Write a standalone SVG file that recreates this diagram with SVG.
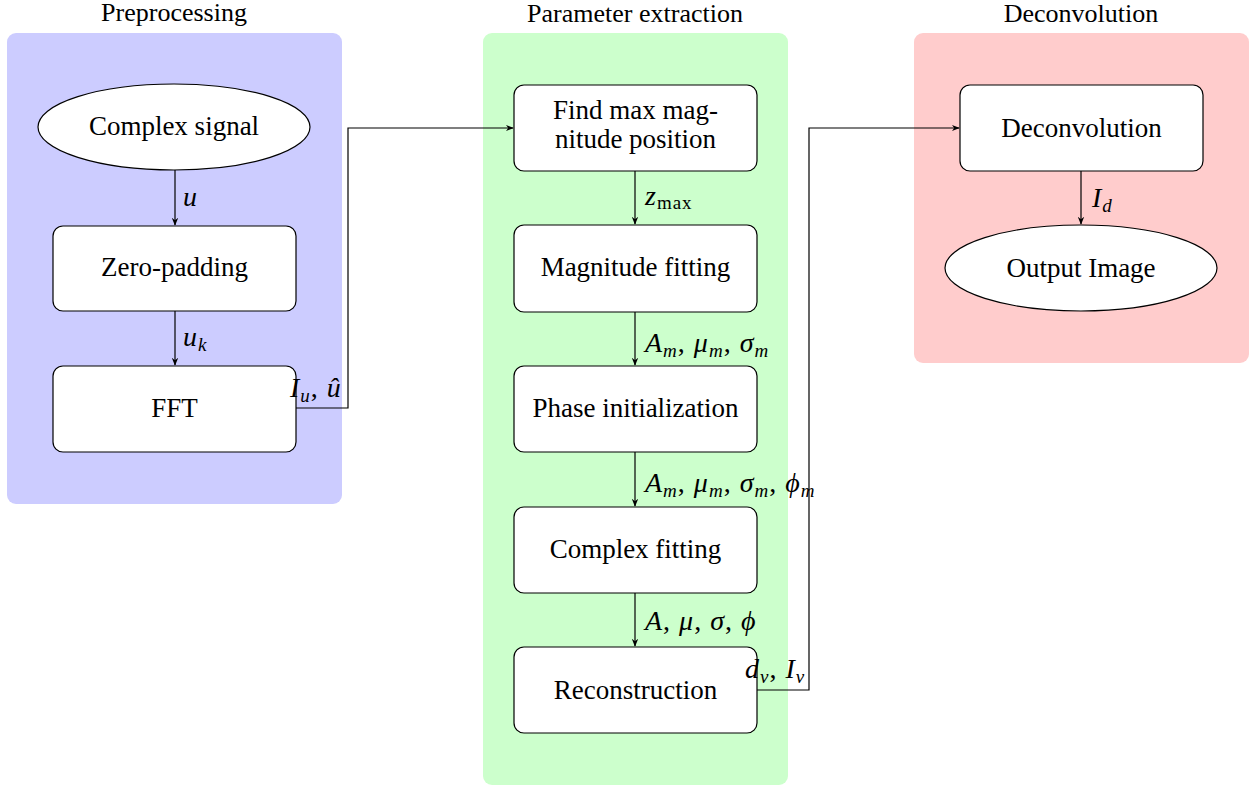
<svg xmlns="http://www.w3.org/2000/svg" width="1250" height="791" viewBox="0 0 1250 791">
<style>
text{font-family:"Liberation Serif","Times New Roman","DejaVu Serif",serif;fill:#000}
.title{font-size:26px;text-anchor:middle}
.lbl{font-size:27px;text-anchor:middle}
.math{font-size:28px;font-style:italic;letter-spacing:1px}
.sub{font-size:19px}
.up{font-style:normal}
.node{fill:#fff;stroke:#000;stroke-width:1.2}
.conn{fill:none;stroke:#000;stroke-width:1.2}
</style>
<defs>
<marker id="arr" viewBox="0 0 10 10" refX="9" refY="5" markerWidth="8" markerHeight="8" markerUnits="userSpaceOnUse" orient="auto">
<path d="M0,1 L10,5 L0,9 L3,5 Z" fill="#000"/>
</marker>
</defs>
<rect width="1250" height="791" fill="#fff"/>
<g id="panels">
<rect x="7" y="33" width="335" height="471" rx="9" fill="#ccccff"/>
<rect x="483" y="33" width="305" height="752" rx="9" fill="#ccffcc"/>
<rect x="914" y="33" width="335" height="330" rx="9" fill="#ffcccc"/>
<text class="title" x="174" y="21">Preprocessing</text>
<text class="title" x="635" y="22">Parameter extraction</text>
<text class="title" x="1081" y="22">Deconvolution</text>
</g>
<g id="connectors">
<line class="conn" x1="175" y1="170" x2="175" y2="225" marker-end="url(#arr)"/>
<line class="conn" x1="175" y1="311" x2="175" y2="365" marker-end="url(#arr)"/>
<polyline class="conn" points="296,408 348,408 348,128 513,128" marker-end="url(#arr)"/>
<line class="conn" x1="635" y1="171" x2="635" y2="224" marker-end="url(#arr)"/>
<line class="conn" x1="635" y1="312" x2="635" y2="365" marker-end="url(#arr)"/>
<line class="conn" x1="635" y1="452" x2="635" y2="506" marker-end="url(#arr)"/>
<line class="conn" x1="635" y1="593" x2="635" y2="646" marker-end="url(#arr)"/>
<polyline class="conn" points="757,690 809,690 809,128 959,128" marker-end="url(#arr)"/>
<line class="conn" x1="1081" y1="171" x2="1081" y2="224" marker-end="url(#arr)"/>
</g>
<g id="complex-signal">
<ellipse class="node" cx="174" cy="127" rx="136" ry="43"/>
<text class="lbl" x="174" y="135">Complex signal</text>
</g>
<g id="zero-padding">
<rect class="node" x="53" y="226" width="243" height="85" rx="10"/>
<text class="lbl" x="174.5" y="276">Zero-padding</text>
</g>
<g id="fft">
<rect class="node" x="53" y="366" width="243" height="86" rx="10"/>
<text class="lbl" x="174.5" y="417">FFT</text>
</g>
<g id="find-max">
<rect class="node" x="514" y="85" width="243" height="86" rx="10"/>
<text class="lbl" x="635.5" y="119">Find max mag-</text>
<text class="lbl" x="635.5" y="148">nitude position</text>
</g>
<g id="magnitude-fitting">
<rect class="node" x="514" y="225" width="243" height="87" rx="10"/>
<text class="lbl" x="635.5" y="276">Magnitude fitting</text>
</g>
<g id="phase-init">
<rect class="node" x="514" y="366" width="243" height="86" rx="10"/>
<text class="lbl" x="635.5" y="417">Phase initialization</text>
</g>
<g id="complex-fitting">
<rect class="node" x="514" y="507" width="243" height="86" rx="10"/>
<text class="lbl" x="635.5" y="558">Complex fitting</text>
</g>
<g id="reconstruction">
<rect class="node" x="514" y="647" width="243" height="86" rx="10"/>
<text class="lbl" x="635.5" y="699">Reconstruction</text>
</g>
<g id="deconvolution">
<rect class="node" x="960" y="85" width="243" height="86" rx="10"/>
<text class="lbl" x="1081.5" y="137">Deconvolution</text>
</g>
<g id="output-image">
<ellipse class="node" cx="1081" cy="268" rx="136" ry="43"/>
<text class="lbl" x="1081" y="277">Output Image</text>
</g>
<g id="connector-labels">
<text class="math" x="183" y="206">u</text>
<text class="math" x="183" y="346">u<tspan class="sub" dy="5">k</tspan></text>
<text class="math" x="290" y="397">I<tspan class="sub" dy="5">u</tspan><tspan class="up" dy="-5">, </tspan>û</text>
<text class="math" x="645" y="205" letter-spacing="0">z<tspan class="sub up" dy="4">max</tspan></text>
<text class="math" x="645" y="352">A<tspan class="sub" dy="5">m</tspan><tspan class="up" dy="-5">, </tspan>μ<tspan class="sub" dy="5">m</tspan><tspan class="up" dy="-5">, </tspan>σ<tspan class="sub" dy="5">m</tspan></text>
<text class="math" x="645" y="492">A<tspan class="sub" dy="5">m</tspan><tspan class="up" dy="-5">, </tspan>μ<tspan class="sub" dy="5">m</tspan><tspan class="up" dy="-5">, </tspan>σ<tspan class="sub" dy="5">m</tspan><tspan class="up" dy="-5">, </tspan>ϕ<tspan class="sub" dy="5">m</tspan></text>
<text class="math" x="645" y="630">A<tspan class="up">, </tspan>μ<tspan class="up">, </tspan>σ<tspan class="up">, </tspan>ϕ</text>
<text class="math" x="745" y="678">d<tspan class="sub" dy="5">v</tspan><tspan class="up" dy="-5">, </tspan>I<tspan class="sub" dy="5">v</tspan></text>
<text class="math" x="1092" y="207">I<tspan class="sub" dy="5">d</tspan></text>
</g>
</svg>
